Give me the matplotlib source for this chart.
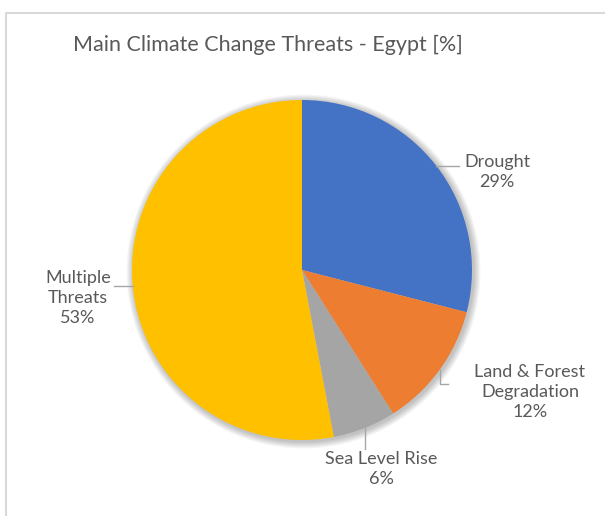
import matplotlib.pyplot as plt
import matplotlib.patches as mpatches
import numpy as np

# Datos
categorias = ["Drought", "Land & Forest\nDegradation", "Sea Level Rise", "Multiple\nThreats"]
porcentajes = [29, 12, 6, 53]
colores = ["#4472C4", "#ED7D31", "#A5A5A5", "#FFC000"]
titulo = "Main Climate Change Threats - Egypt [%]"

W, H = 605, 516
GRIS = "#595959"

fig = plt.figure(figsize=(W / 100, H / 100), dpi=100)
ax = fig.add_axes([0, 0, 1, 1])
ax.set_xlim(0, W)
ax.set_ylim(0, H)
ax.axis("off")

# Marco del grafico (solo borde izquierdo y superior visibles)
ax.plot([6, 6, W], [0, H - 13, H - 13], color="#D9D9D9", lw=1.5, solid_capstyle="butt")

cx, cy, r = 302, H - 270, 170

# Sombra suave alrededor del pastel
for k in range(1, 8):
    ax.add_patch(mpatches.Circle((cx + 1.5, cy - 1.5), r + k, color="black",
                                 alpha=0.035, lw=0, zorder=1))

wedges, _ = ax.pie(porcentajes, colors=colores, startangle=90, counterclock=False,
                   center=(cx, cy), radius=r, frame=True,
                   wedgeprops=dict(linewidth=0, zorder=2))
ax.set_xlim(0, W)
ax.set_ylim(0, H)
ax.set_aspect("equal")
ax.axis("off")

# Posicion del texto de cada etiqueta (px desde arriba) y codo de la linea guia
textos = [(497, 172), (530, 392), (381, 469), (78, 298)]
guias = ["h", "vh", "v", "h"]
fin_guia = [(459, None), (448, 384), (None, 449), (114, None)]

for w, cat, p, (tx, ty), g, (fx, fy) in zip(wedges, categorias, porcentajes,
                                             textos, guias, fin_guia):
    ang = np.deg2rad((w.theta1 + w.theta2) / 2)
    ex, ey = cx + r * np.cos(ang), cy + r * np.sin(ang)
    if g == "h":
        xs, ys = [ex, fx], [ey, ey]
    elif g == "v":
        xs, ys = [ex, ex], [ey, H - fy]
    else:
        xs, ys = [ex, ex, fx], [ey, H - fy, H - fy]
    ax.plot(xs, ys, color="#A6A6A6", lw=1, zorder=3)
    ax.text(tx, H - ty, f"{cat}\n{p}%", ha="center", va="center", color=GRIS,
            fontsize=13, family="Lato", linespacing=1.3, zorder=4)

ax.text(268, H - 45, titulo, ha="center", va="center", color=GRIS,
        fontsize=15.5, family="Lato")

fig.savefig("out.png", dpi=100, facecolor="white")
plt.close()
